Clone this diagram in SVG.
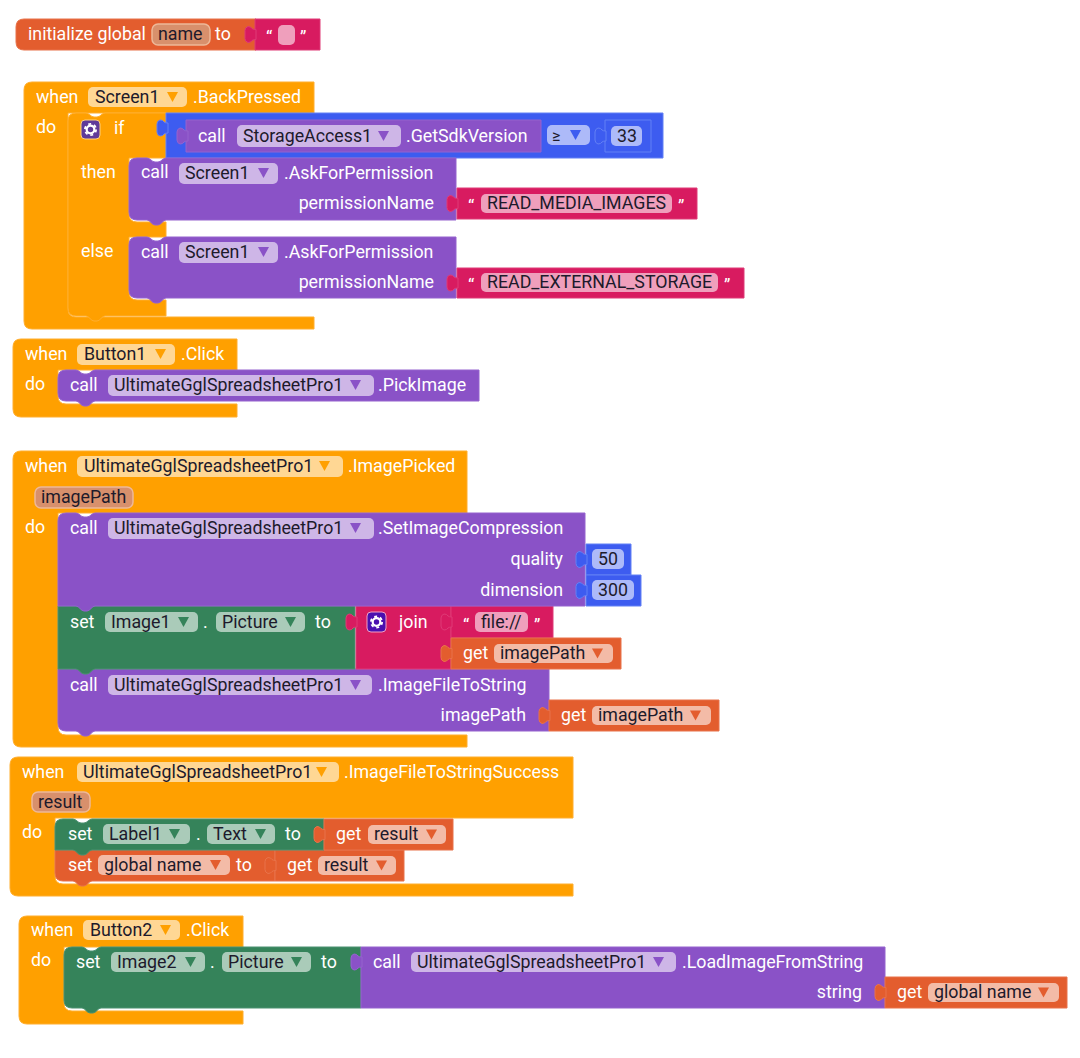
<svg xmlns="http://www.w3.org/2000/svg" xmlns:xlink="http://www.w3.org/1999/xlink" width="1080" height="1058" viewBox="0 0 1080 1058">
<defs>
<style>
text{font-family:Roboto,"Liberation Sans",sans-serif;font-size:17.800px;fill:#fff}
text.d{fill:#1d1a2b}
text.e{text-anchor:end}
.o{fill:#FFA000;stroke:#FFAE2E;stroke-width:1}
.p{fill:#8A52C7;stroke:#9563CE;stroke-width:1}
.g{fill:#35835A;stroke:#4A9170;stroke-width:1}
.r{fill:#D81B60;stroke:#DF3A76;stroke-width:1}
.v{fill:#E35D2E;stroke:#E8734A;stroke-width:1}
.b{fill:#3D5CF0;stroke:#6380F5;stroke-width:1}
.ao{fill:#FFA000}.ap{fill:#8A52C7}.ag{fill:#35835A}.av{fill:#E35D2E}.ab{fill:#3D5CF0}
.f{fill:#fff;fill-opacity:.58}
.n{fill:#D8906C;stroke:#EDB898;stroke-width:1.500}
</style>
<path id="tab" d="M1,-5Q-2,-5-3,-6Q-4,-8-7,-8Q-10,-7-10,-4V4Q-10,7-7,8Q-4,8-3,6Q-2,5,1,5Z"/>
<path id="ar" d="M0,-5h11l-5.500,10z"/>
<g id="gear">
<circle cx="0" cy="0" r="3.800" fill="none" stroke="#fff" stroke-width="2.200"/>
<circle cx="0" cy="0" r="5.600" fill="none" stroke="#fff" stroke-width="1.800" stroke-dasharray="2.900 2.960"/>
</g>
</defs>
<rect width="1080" height="1058" fill="#fff"/>

<g id="init-global">
<path class="v" d="M24,19H256V50H24q-8,0-8-8V27q0-8,8-8Z"/>
<text x="28" y="40">initialize global</text>
<rect class="n" x="152" y="24" width="58" height="21" rx="6"/>
<text class="d" x="158" y="40">name</text>
<text x="215" y="40">to</text>
</g>
<g id="init-value">
<path class="r" d="M255,19H320V50H255Z"/>
<use href="#tab" x="255" y="34.500" class="r"/>
<text x="266" y="44">“</text>
<rect class="f" x="278" y="25" width="17" height="20" rx="5"/>
<text x="300" y="44">”</text>
</g>

<g id="when-back">
<path class="o" d="M24,90q0-8,8-8H314V113H68V309q0,8,8,8H314V329H32q-8,0-8-8Z"/>
<text x="36" y="103">when</text>
<rect class="f" x="88" y="87" width="99" height="20" rx="5"/>
<text class="d" x="95" y="103">Screen1</text>
<use href="#ar" x="167" y="97" class="ao"/>
<text x="193" y="103">.BackPressed</text>
<text x="36" y="133">do</text>
</g>
<g id="if-block">
<path class="o" d="M68,121q0-8,8-8h10c3,0,5,4,8,4h3c3,0,5-4,8-4H166V158H129V214q0,8,8,8H166V237H129V292q0,8,8,8H166V316H105c-3,0-5,5-8,5h-3c-3,0-5-5-8-5H76q-8,0-8-8Z"/>
<rect x="81" y="120" width="19" height="19" rx="4" fill="#5F3A9A" stroke="#FFD27A"/>
<use href="#gear" x="90.500" y="129.500"/>
<text x="114" y="134">if</text>
<text x="81" y="178">then</text>
<text x="81" y="257">else</text>
</g>
<g id="compare">
<path class="b" d="M166,113H663V158H166Z"/>
<use href="#tab" x="167" y="128" class="b"/>
<rect class="f" x="547" y="125" width="43" height="20" rx="5"/>
<text class="d" x="552" y="141" style="font-size:16px">≥</text>
<use href="#ar" x="570" y="135" class="ab"/>
</g>
<g id="get-sdk">
<path class="p" d="M186,120H541V152H186Z"/>
<use href="#tab" x="187" y="136" class="p"/>
<text x="198" y="142">call</text>
<rect class="f" x="237" y="125" width="164" height="22" rx="5"/>
<text class="d" x="243" y="142">StorageAccess1</text>
<use href="#ar" x="378" y="136" class="ap"/>
<text x="406" y="142">.GetSdkVersion</text>
</g>
<g id="num-33">
<path class="b" d="M605,120H651V152H605Z"/>
<use href="#tab" x="605" y="136" class="b"/>
<rect class="f" x="611" y="126" width="31" height="20" rx="5"/>
<text class="d" x="617" y="142">33</text>
</g>

<g id="ask-media">
<path class="p" d="M129,166q0-8,8-8h10c3,0,5,4,8,4h3c3,0,5-4,8-4H456V220H166c-3,0-5,5-8,5h-3c-3,0-5-5-8-5H137q-8,0-8-8Z"/>
<text x="141" y="178">call</text>
<rect class="f" x="179" y="163" width="99" height="21" rx="5"/>
<text class="d" x="185" y="179">Screen1</text>
<use href="#ar" x="258" y="173" class="ap"/>
<text x="284" y="179">.AskForPermission</text>
<text class="e" x="434" y="209">permissionName</text>
</g>
<g id="str-media">
<path class="r" d="M457,188H697V219H457Z"/>
<use href="#tab" x="457" y="203.500" class="r"/>
<text x="468" y="213">“</text>
<rect class="f" x="481" y="194" width="191" height="19" rx="5"/>
<text class="d" x="487" y="209">READ_MEDIA_IMAGES</text>
<text x="678" y="213">”</text>
</g>
<g id="ask-external">
<path class="p" d="M129,245q0-8,8-8h10c3,0,5,4,8,4h3c3,0,5-4,8-4H456V298H166c-3,0-5,5-8,5h-3c-3,0-5-5-8-5H137q-8,0-8-8Z"/>
<text x="141" y="258">call</text>
<rect class="f" x="179" y="242" width="99" height="21" rx="5"/>
<text class="d" x="185" y="258">Screen1</text>
<use href="#ar" x="258" y="252" class="ap"/>
<text x="284" y="258">.AskForPermission</text>
<text class="e" x="434" y="288">permissionName</text>
</g>
<g id="str-external">
<path class="r" d="M457,268H744V298H457Z"/>
<use href="#tab" x="457" y="283" class="r"/>
<text x="468" y="292">“</text>
<rect class="f" x="481" y="273" width="237" height="19" rx="5"/>
<text class="d" x="487" y="288">READ_EXTERNAL_STORAGE</text>
<text x="724" y="292">”</text>
</g>

<g id="when-button1">
<path class="o" d="M13,347q0-8,8-8H237V370H58V396q0,8,8,8H237V417H21q-8,0-8-8Z"/>
<text x="25" y="360">when</text>
<rect class="f" x="77" y="344" width="98" height="21" rx="5"/>
<text class="d" x="84" y="360">Button1</text>
<use href="#ar" x="155" y="354" class="ao"/>
<text x="181" y="360">.Click</text>
<text x="25" y="390">do</text>
</g>
<g id="pick-image">
<path class="p" d="M58,378q0-8,8-8h10c3,0,5,4,8,4h3c3,0,5-4,8-4H479V401H95c-3,0-5,5-8,5h-3c-3,0-5-5-8-5H66q-8,0-8-8Z"/>
<text x="70" y="391">call</text>
<rect class="f" x="108" y="375" width="266" height="21" rx="5"/>
<text class="d" x="114" y="391">UltimateGglSpreadsheetPro1</text>
<use href="#ar" x="350" y="385" class="ap"/>
<text x="378" y="391">.PickImage</text>
</g>

<g id="when-picked">
<path class="o" d="M13,459q0-8,8-8H467V513H58V727q0,8,8,8H467V747H21q-8,0-8-8Z"/>
<text x="25" y="472">when</text>
<rect class="f" x="77" y="456" width="266" height="21" rx="5"/>
<text class="d" x="84" y="472">UltimateGglSpreadsheetPro1</text>
<use href="#ar" x="319" y="466" class="ao"/>
<text x="348" y="472">.ImagePicked</text>
<rect class="n" x="35" y="487" width="98" height="21" rx="6"/>
<text class="d" x="41" y="503">imagePath</text>
<text x="25" y="533">do</text>
</g>
<g id="file-to-string">
<path class="p" d="M58,669H549V731H95c-3,0-5,5-8,5h-3c-3,0-5-5-8-5H66q-8,0-8-8Z"/>
<text x="70" y="691">call</text>
<rect class="f" x="108" y="675" width="264" height="20" rx="5"/>
<text class="d" x="114" y="691">UltimateGglSpreadsheetPro1</text>
<use href="#ar" x="350" y="685" class="ap"/>
<text x="378" y="691">.ImageFileToString</text>
<text class="e" x="526" y="721">imagePath</text>
</g>
<g id="get-path-2">
<path class="v" d="M549,700H719V731H549Z"/>
<use href="#tab" x="549" y="715.500" class="v"/>
<text x="561" y="721">get</text>
<rect class="f" x="592" y="706" width="119" height="19" rx="5"/>
<text class="d" x="598" y="721">imagePath</text>
<use href="#ar" x="690" y="715.500" class="av"/>
</g>
<g id="set-image1">
<path class="g" d="M58,606H355V669H95c-3,0-5,5-8,5h-3c-3,0-5-5-8-5H58Z"/>
<text x="70" y="628">set</text>
<rect class="f" x="105" y="612" width="93" height="20" rx="5"/>
<text class="d" x="111" y="628">Image1</text>
<use href="#ar" x="178" y="622" class="ag"/>
<text x="203" y="628">.</text>
<rect class="f" x="216" y="612" width="89" height="20" rx="5"/>
<text class="d" x="222" y="628">Picture</text>
<use href="#ar" x="285" y="622" class="ag"/>
<text x="315" y="628">to</text>
</g>
<g id="join">
<path class="r" d="M356,606H451V669H356Z"/>
<use href="#tab" x="356" y="622" class="r"/>
<rect x="367" y="612" width="19" height="20" rx="4" fill="#4A0FAF" stroke="#F0A0C4"/>
<use href="#gear" x="376.500" y="622"/>
<text x="399" y="628">join</text>
</g>
<g id="str-file">
<path class="r" d="M451,606H553V638H451Z"/>
<use href="#tab" x="451" y="622" class="r"/>
<text x="463" y="632">“</text>
<rect class="f" x="475" y="612" width="53" height="20" rx="5"/>
<text class="d" x="481" y="628">file://</text>
<text x="534" y="632">”</text>
</g>
<g id="get-path-1">
<path class="v" d="M451,638H621V669H451Z"/>
<use href="#tab" x="451" y="653.500" class="v"/>
<text x="463" y="659">get</text>
<rect class="f" x="494" y="644" width="119" height="19" rx="5"/>
<text class="d" x="500" y="659">imagePath</text>
<use href="#ar" x="592" y="653.500" class="av"/>
</g>
<g id="set-compression">
<path class="p" d="M58,521q0-8,8-8h10c3,0,5,4,8,4h3c3,0,5-4,8-4H585V606H95c-3,0-5,5-8,5h-3c-3,0-5-5-8-5H58Z"/>
<text x="70" y="534">call</text>
<rect class="f" x="108" y="518" width="266" height="21" rx="5"/>
<text class="d" x="114" y="534">UltimateGglSpreadsheetPro1</text>
<use href="#ar" x="350" y="528" class="ap"/>
<text x="378" y="534">.SetImageCompression</text>
<text class="e" x="563" y="565">quality</text>
<text class="e" x="563" y="596">dimension</text>
</g>
<g id="num-50">
<path class="b" d="M586,544H631V575H586Z"/>
<use href="#tab" x="586" y="559.500" class="b"/>
<rect class="f" x="592" y="549" width="32" height="20" rx="5"/>
<text class="d" x="598" y="565">50</text>
</g>
<g id="num-300">
<path class="b" d="M586,575H641V606H586Z"/>
<use href="#tab" x="586" y="590.500" class="b"/>
<rect class="f" x="592" y="580" width="42" height="20" rx="5"/>
<text class="d" x="598" y="596">300</text>
</g>

<g id="when-success">
<path class="o" d="M10,765q0-8,8-8H573V818H55V876q0,8,8,8H573V896H18q-8,0-8-8Z"/>
<text x="22" y="778">when</text>
<rect class="f" x="77" y="762" width="262" height="20" rx="5"/>
<text class="d" x="83" y="778">UltimateGglSpreadsheetPro1</text>
<use href="#ar" x="316" y="772" class="ao"/>
<text x="344" y="778">.ImageFileToStringSuccess</text>
<rect class="n" x="32" y="792" width="58" height="20" rx="6"/>
<text class="d" x="38" y="808">result</text>
<text x="22" y="838">do</text>
</g>
<g id="set-global">
<path class="v" d="M55,850H275V881H92c-3,0-5,5-8,5h-3c-3,0-5-5-8-5H63q-8,0-8-8Z"/>
<text x="68" y="871">set</text>
<rect class="f" x="98" y="855" width="132" height="20" rx="5"/>
<text class="d" x="104" y="871">global name</text>
<use href="#ar" x="210" y="865" class="av"/>
<text x="236" y="871">to</text>
</g>
<g id="get-result-2">
<path class="v" d="M275,850H404V881H275Z"/>
<use href="#tab" x="275" y="865.500" class="v"/>
<text x="287" y="871">get</text>
<rect class="f" x="318" y="856" width="78" height="19" rx="5"/>
<text class="d" x="324" y="871">result</text>
<use href="#ar" x="376" y="865.500" class="av"/>
</g>
<g id="set-label">
<path class="g" d="M55,827q0-8,8-8h10c3,0,5,4,8,4h3c3,0,5-4,8-4H324V850H92c-3,0-5,5-8,5h-3c-3,0-5-5-8-5H55Z"/>
<text x="68" y="840">set</text>
<rect class="f" x="103" y="824" width="87" height="20" rx="5"/>
<text class="d" x="109" y="840">Label1</text>
<use href="#ar" x="169" y="834" class="ag"/>
<text x="196" y="840">.</text>
<rect class="f" x="207" y="824" width="68" height="20" rx="5"/>
<text class="d" x="213" y="840">Text</text>
<use href="#ar" x="255" y="834" class="ag"/>
<text x="285" y="840">to</text>
</g>
<g id="get-result-1">
<path class="v" d="M324,819H453V850H324Z"/>
<use href="#tab" x="324" y="834.500" class="v"/>
<text x="336" y="840">get</text>
<rect class="f" x="368" y="825" width="78" height="19" rx="5"/>
<text class="d" x="374" y="840">result</text>
<use href="#ar" x="426" y="834.500" class="av"/>
</g>

<g id="when-button2">
<path class="o" d="M19,924q0-8,8-8H243V947H64V1003q0,8,8,8H243V1024H27q-8,0-8-8Z"/>
<text x="31" y="936">when</text>
<rect class="f" x="83" y="920" width="97" height="20" rx="5"/>
<text class="d" x="90" y="936">Button2</text>
<use href="#ar" x="160" y="930" class="ao"/>
<text x="186" y="936">.Click</text>
<text x="31" y="966">do</text>
</g>
<g id="set-image2">
<path class="g" d="M64,955q0-8,8-8h10c3,0,5,4,8,4h3c3,0,5-4,8-4H361V1008H101c-3,0-5,5-8,5h-3c-3,0-5-5-8-5H72q-8,0-8-8Z"/>
<text x="76" y="968">set</text>
<rect class="f" x="111" y="952" width="94" height="20" rx="5"/>
<text class="d" x="117" y="968">Image2</text>
<use href="#ar" x="185" y="962" class="ag"/>
<text x="210" y="968">.</text>
<rect class="f" x="222" y="952" width="89" height="20" rx="5"/>
<text class="d" x="228" y="968">Picture</text>
<use href="#ar" x="291" y="962" class="ag"/>
<text x="321" y="968">to</text>
</g>
<g id="load-image">
<path class="p" d="M361,947H885V1008H361Z"/>
<use href="#tab" x="361" y="962" class="p"/>
<text x="373" y="968">call</text>
<rect class="f" x="411" y="952" width="265" height="20" rx="5"/>
<text class="d" x="417" y="968">UltimateGglSpreadsheetPro1</text>
<use href="#ar" x="653" y="962" class="ap"/>
<text x="682" y="968">.LoadImageFromString</text>
<text class="e" x="862" y="998">string</text>
</g>
<g id="get-global">
<path class="v" d="M885,977H1067V1008H885Z"/>
<use href="#tab" x="885" y="992.500" class="v"/>
<text x="897" y="998">get</text>
<rect class="f" x="928" y="983" width="131" height="19" rx="5"/>
<text class="d" x="934" y="998">global name</text>
<use href="#ar" x="1038" y="992.500" class="av"/>
</g>
<g id="connectors"/>
</svg>
